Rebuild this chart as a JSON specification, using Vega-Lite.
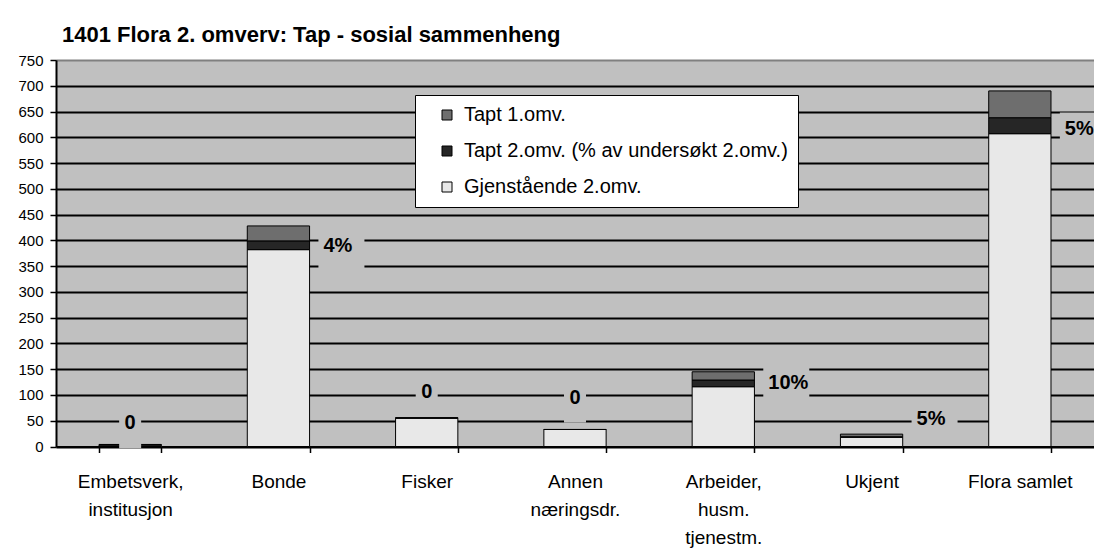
{
  "$schema": "https://vega.github.io/schema/vega-lite/v6.json",
  "autosize": {"type": "none"},
  "padding": {"left": 56, "top": 60, "right": 0, "bottom": 106.5},
  "width": 1038,
  "height": 386.5,
  "background": "white",
  "title": {
    "text": "1401 Flora 2. omverv: Tap - sosial sammenheng",
    "anchor": "start",
    "frame": "group",
    "font": "Liberation Sans",
    "fontSize": 22,
    "fontWeight": "bold",
    "color": "black",
    "dx": 6,
    "dy": 31,
    "offset": 20,
    "baseline": "alphabetic"
  },
  "config": {
    "font": "Liberation Sans",
    "view": {"fill": "#c0c0c0", "stroke": "#808080", "strokeWidth": 1}
  },
  "datasets": {
    "bars": [
      {"cat": "Embetsverk, institusjon", "series": "Gjenstående 2.omv.", "k": 1, "value": 3},
      {"cat": "Embetsverk, institusjon", "series": "Tapt 2.omv. (% av undersøkt 2.omv.)", "k": 2, "value": 0},
      {"cat": "Embetsverk, institusjon", "series": "Tapt 1.omv.", "k": 3, "value": 1},
      {"cat": "Bonde", "series": "Gjenstående 2.omv.", "k": 1, "value": 382},
      {"cat": "Bonde", "series": "Tapt 2.omv. (% av undersøkt 2.omv.)", "k": 2, "value": 17},
      {"cat": "Bonde", "series": "Tapt 1.omv.", "k": 3, "value": 29},
      {"cat": "Fisker", "series": "Gjenstående 2.omv.", "k": 1, "value": 55},
      {"cat": "Fisker", "series": "Tapt 2.omv. (% av undersøkt 2.omv.)", "k": 2, "value": 0},
      {"cat": "Fisker", "series": "Tapt 1.omv.", "k": 3, "value": 1},
      {"cat": "Annen næringsdr.", "series": "Gjenstående 2.omv.", "k": 1, "value": 33},
      {"cat": "Annen næringsdr.", "series": "Tapt 2.omv. (% av undersøkt 2.omv.)", "k": 2, "value": 0},
      {"cat": "Annen næringsdr.", "series": "Tapt 1.omv.", "k": 3, "value": 0},
      {"cat": "Arbeider, husm. tjenestm.", "series": "Gjenstående 2.omv.", "k": 1, "value": 116},
      {"cat": "Arbeider, husm. tjenestm.", "series": "Tapt 2.omv. (% av undersøkt 2.omv.)", "k": 2, "value": 13},
      {"cat": "Arbeider, husm. tjenestm.", "series": "Tapt 1.omv.", "k": 3, "value": 16},
      {"cat": "Ukjent", "series": "Gjenstående 2.omv.", "k": 1, "value": 18},
      {"cat": "Ukjent", "series": "Tapt 2.omv. (% av undersøkt 2.omv.)", "k": 2, "value": 1},
      {"cat": "Ukjent", "series": "Tapt 1.omv.", "k": 3, "value": 5},
      {"cat": "Flora samlet", "series": "Gjenstående 2.omv.", "k": 1, "value": 607},
      {"cat": "Flora samlet", "series": "Tapt 2.omv. (% av undersøkt 2.omv.)", "k": 2, "value": 31},
      {"cat": "Flora samlet", "series": "Tapt 1.omv.", "k": 3, "value": 52}
    ],
    "labels": [
      {"cat": "Embetsverk, institusjon", "text": "0", "kind": "zero", "ly": 45},
      {"cat": "Fisker", "text": "0", "kind": "zero", "ly": 106},
      {"cat": "Annen næringsdr.", "text": "0", "kind": "zero", "ly": 95},
      {"cat": "Bonde", "text": "4%", "kind": "pct", "ly": 390},
      {"cat": "Arbeider, husm. tjenestm.", "text": "10%", "kind": "pct", "ly": 124},
      {"cat": "Ukjent", "text": "5%", "kind": "pct", "ly": 53},
      {"cat": "Flora samlet", "text": "5%", "kind": "pct", "ly": 617}
    ]
  },
  "encoding": {
    "x": {
      "field": "cat", "type": "nominal",
      "sort": ["Embetsverk, institusjon", "Bonde", "Fisker", "Annen næringsdr.", "Arbeider, husm. tjenestm.", "Ukjent", "Flora samlet"],
      "scale": {"paddingInner": 0.58, "paddingOuter": 0.29},
      "axis": {
        "title": null,
        "labelAngle": 0,
        "labelFont": "Liberation Sans",
        "labelFontSize": 19,
        "labelColor": "black",
        "labelLineHeight": 28,
        "labelPadding": 20,
        "labelLimit": 300,
        "labelExpr": "datum.value == 'Embetsverk, institusjon' ? ['Embetsverk,', 'institusjon'] : datum.value == 'Annen næringsdr.' ? ['Annen', 'næringsdr.'] : datum.value == 'Arbeider, husm. tjenestm.' ? ['Arbeider,', 'husm.', 'tjenestm.'] : datum.value",
        "tickBand": "extent",
        "tickSize": 6,
        "tickColor": "black",
        "tickWidth": 1.5,
        "domainColor": "black",
        "domainWidth": 2
      }
    }
  },
  "layer": [
    {
      "data": {"name": "bars"},
      "mark": {"type": "bar", "stroke": "black", "strokeWidth": 1},
      "encoding": {
        "y": {
          "field": "value", "type": "quantitative", "stack": "zero",
          "scale": {"domain": [0, 750], "nice": false},
          "axis": {
            "title": null,
            "values": [0, 50, 100, 150, 200, 250, 300, 350, 400, 450, 500, 550, 600, 650, 700, 750],
            "labelFont": "Liberation Sans",
            "labelFontSize": 15,
            "labelColor": "black",
            "labelPadding": 7,
            "tickSize": 6,
            "tickColor": "black",
            "tickWidth": 1.5,
            "domainColor": "black",
            "domainWidth": 2,
            "grid": true,
            "gridColor": {"condition": {"test": "datum.value == 750", "value": "#808080"}, "value": "black"},
            "gridWidth": 1.8
          }
        },
        "color": {
          "field": "series", "type": "nominal",
          "scale": {
            "domain": ["Tapt 1.omv.", "Tapt 2.omv. (% av undersøkt 2.omv.)", "Gjenstående 2.omv."],
            "range": ["#6e6e6e", "#262626", "#e8e8e8"]
          },
          "legend": {
            "title": null,
            "orient": "none",
            "legendX": 359,
            "legendY": 35,
            "fillColor": "white",
            "strokeColor": "black",
            "padding": 10,
            "symbolOffset": 12,
            "symbolType": "square",
            "symbolSize": 100,
            "symbolStrokeColor": "black",
            "symbolStrokeWidth": 1,
            "symbolOpacity": 1,
            "labelFont": "Liberation Sans",
            "labelFontSize": 20,
            "labelColor": "black",
            "labelOffset": 7,
            "labelLimit": 500,
            "rowPadding": 16
          }
        },
        "order": {"field": "k", "type": "quantitative", "sort": "ascending"}
      }
    },
    {
      "data": {"name": "labels"},
      "transform": [{"filter": "datum.kind == 'zero'"}],
      "mark": {"type": "point", "shape": "M-1.1,-1.6L1.1,-1.6L1.1,2.5L-1.1,2.5Z", "size": 400, "filled": true, "color": "#c0c0c0", "opacity": 1, "strokeWidth": 0},
      "encoding": {
        "y": {
          "field": "ly", "type": "quantitative",
          "scale": {"domain": [0, 750], "nice": false},
          "axis": {
            "title": null,
            "values": [0, 50, 100, 150, 200, 250, 300, 350, 400, 450, 500, 550, 600, 650, 700, 750],
            "labelFont": "Liberation Sans",
            "labelFontSize": 15,
            "labelColor": "black",
            "labelPadding": 7,
            "tickSize": 6,
            "tickColor": "black",
            "tickWidth": 1.5,
            "domainColor": "black",
            "domainWidth": 2,
            "grid": true,
            "gridColor": {"condition": {"test": "datum.value == 750", "value": "#808080"}, "value": "black"},
            "gridWidth": 1.8
          }
        }
      }
    },
    {
      "data": {"name": "labels"},
      "transform": [{"filter": "datum.kind == 'pct'"}],
      "mark": {"type": "point", "shape": "M4,-1.6L8.6,-1.6L8.6,2.5L4,2.5Z", "size": 400, "filled": true, "color": "#c0c0c0", "opacity": 1, "strokeWidth": 0},
      "encoding": {
        "y": {
          "field": "ly", "type": "quantitative",
          "scale": {"domain": [0, 750], "nice": false},
          "axis": {
            "title": null,
            "values": [0, 50, 100, 150, 200, 250, 300, 350, 400, 450, 500, 550, 600, 650, 700, 750],
            "labelFont": "Liberation Sans",
            "labelFontSize": 15,
            "labelColor": "black",
            "labelPadding": 7,
            "tickSize": 6,
            "tickColor": "black",
            "tickWidth": 1.5,
            "domainColor": "black",
            "domainWidth": 2,
            "grid": true,
            "gridColor": {"condition": {"test": "datum.value == 750", "value": "#808080"}, "value": "black"},
            "gridWidth": 1.8
          }
        }
      }
    },
    {
      "data": {"name": "labels"},
      "transform": [{"filter": "datum.kind == 'zero'"}],
      "mark": {"type": "text", "align": "center", "baseline": "middle", "font": "Liberation Sans", "fontSize": 20, "fontWeight": "bold", "color": "black"},
      "encoding": {
        "y": {
          "field": "ly", "type": "quantitative",
          "scale": {"domain": [0, 750], "nice": false},
          "axis": {
            "title": null,
            "values": [0, 50, 100, 150, 200, 250, 300, 350, 400, 450, 500, 550, 600, 650, 700, 750],
            "labelFont": "Liberation Sans",
            "labelFontSize": 15,
            "labelColor": "black",
            "labelPadding": 7,
            "tickSize": 6,
            "tickColor": "black",
            "tickWidth": 1.5,
            "domainColor": "black",
            "domainWidth": 2,
            "grid": true,
            "gridColor": {"condition": {"test": "datum.value == 750", "value": "#808080"}, "value": "black"},
            "gridWidth": 1.8
          }
        },
        "text": {"field": "text"}
      }
    },
    {
      "data": {"name": "labels"},
      "transform": [{"filter": "datum.kind == 'pct'"}],
      "mark": {"type": "text", "align": "left", "baseline": "middle", "dx": 45, "font": "Liberation Sans", "fontSize": 20, "fontWeight": "bold", "color": "black"},
      "encoding": {
        "y": {
          "field": "ly", "type": "quantitative",
          "scale": {"domain": [0, 750], "nice": false},
          "axis": {
            "title": null,
            "values": [0, 50, 100, 150, 200, 250, 300, 350, 400, 450, 500, 550, 600, 650, 700, 750],
            "labelFont": "Liberation Sans",
            "labelFontSize": 15,
            "labelColor": "black",
            "labelPadding": 7,
            "tickSize": 6,
            "tickColor": "black",
            "tickWidth": 1.5,
            "domainColor": "black",
            "domainWidth": 2,
            "grid": true,
            "gridColor": {"condition": {"test": "datum.value == 750", "value": "#808080"}, "value": "black"},
            "gridWidth": 1.8
          }
        },
        "text": {"field": "text"}
      }
    }
  ]
}
